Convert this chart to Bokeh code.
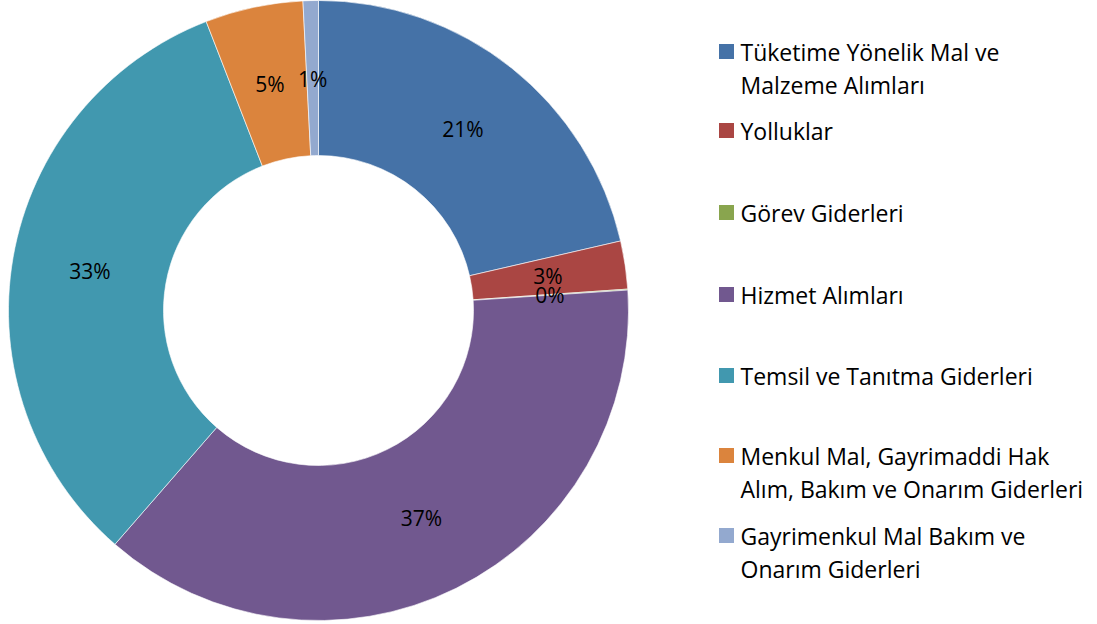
import math
from bokeh.plotting import figure
from bokeh.models import ColumnDataSource, Range1d
from bokeh.core.properties import value
from bokeh.embed import file_html
from bokeh.resources import INLINE

categories = [
    "Tüketime Yönelik Mal ve Malzeme Alımları",
    "Yolluklar",
    "Görev Giderleri",
    "Hizmet Alımları",
    "Temsil ve Tanıtma Giderleri",
    "Menkul Mal, Gayrimaddi Hak Alım, Bakım ve Onarım Giderleri",
    "Gayrimenkul Mal Bakım ve Onarım Giderleri",
]
legend_lines = [
    ["Tüketime Yönelik Mal ve", "Malzeme Alımları"],
    ["Yolluklar"],
    ["Görev Giderleri"],
    ["Hizmet Alımları"],
    ["Temsil ve Tanıtma Giderleri"],
    ["Menkul Mal, Gayrimaddi Hak", "Alım, Bakım ve Onarım Giderleri"],
    ["Gayrimenkul Mal Bakım ve", "Onarım Giderleri"],
]
values = [21.4, 2.5, 0.05, 37.45, 32.7, 5.1, 0.8]
pct_labels = ["21%", "3%", "0%", "37%", "33%", "5%", "1%"]
colors = ["#4572A7", "#AA4643", "#89A54E", "#71588F", "#4198AF", "#DB843D", "#93A9CF"]

W, H = 1097, 624
cx, cy = 318, H - 310
r_out, r_in = 310, 155
r_lab = 232
FONT = "Open Sans"

total = sum(values)
starts, ends, lx, ly = [], [], [], []
cum = 0.0
for v in values:
    a0 = math.pi / 2 - cum / total * 2 * math.pi
    cum += v
    a1 = math.pi / 2 - cum / total * 2 * math.pi
    starts.append(a0)
    ends.append(a1)
    am = (a0 + a1) / 2
    lx.append(cx + r_lab * math.cos(am))
    ly.append(cy + r_lab * math.sin(am))

p = figure(width=W, height=H, output_backend="svg", toolbar_location=None,
           x_range=Range1d(0, W), y_range=Range1d(0, H), min_border=0)
p.axis.visible = False
p.grid.visible = False
p.outline_line_color = None
p.background_fill_color = "white"

src = ColumnDataSource(dict(start=starts, end=ends, color=colors))
p.annular_wedge(x=cx, y=cy, inner_radius=r_in, outer_radius=r_out,
                start_angle="start", end_angle="end", direction="clock",
                fill_color="color", line_color="white", line_width=0.6,
                source=src)

lsrc = ColumnDataSource(dict(x=lx, y=ly, t=pct_labels))
p.text(x="x", y="y", text="t", source=lsrc, text_align="center",
       text_baseline="middle", text_font=value(FONT), text_font_size="21px",
       text_color="#000000")

# legend
leg_y = [51, 130, 212, 294, 375, 455, 535]
line_h = 33
sq_x, tx = 726, 740
for i, lines in enumerate(legend_lines):
    y0 = H - leg_y[i]
    p.rect(x=sq_x, y=y0, width=15, height=15, fill_color=colors[i], line_color=None)
    ys = [y0 - k * line_h for k in range(len(lines))]
    p.text(x=[tx] * len(lines), y=ys, text=lines, text_align="left",
           text_baseline="middle", text_font=value(FONT), text_font_size="23px",
           text_color="#000000")

open("out.html", "w").write(file_html(p, INLINE))
